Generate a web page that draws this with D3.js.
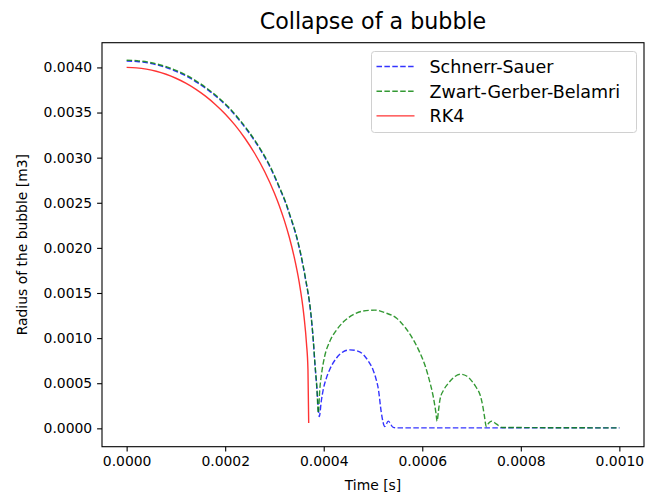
<!DOCTYPE html>
<html lang="en">
<head>
	<meta charset="UTF-8">
	<title>Collapse of a bubble</title>
	<style>
		body { margin: 0; background: #fff; }
		text { font-family: "DejaVu Sans", sans-serif; fill: #000; }
	</style>
</head>
<body>
	<div id="viz-wrapper"></div>

	<script src="https://cdn.jsdelivr.net/npm/d3@7"></script>

	<script type="text/javascript">
    // values
    var timeRK4   = [0, 0.00002, 0.00004, 0.00006, 0.00008, 0.0001, 0.00012, 0.00014, 0.00016, 0.00018,
                     0.0002, 0.00022, 0.00024, 0.00026, 0.00028, 0.0003, 0.00031, 0.00032, 0.00033,
                     0.00034, 0.00035, 0.00036, 0.000365, 0.000368, 0.0003695];
    var radiusRK4 = [0.00400, 0.003995, 0.003981, 0.003958, 0.003924, 0.003880, 0.003826, 0.003760, 0.003682, 0.003590,
                     0.003484, 0.003360, 0.003215, 0.003046, 0.002847, 0.002606, 0.002465, 0.002305, 0.002120,
                     0.001900, 0.001625, 0.001238, 0.000941, 0.000653, 0.00006];

    var timeSS   = [0, 0.000021, 0.000042, 0.000062, 0.000083, 0.000104, 0.000125, 0.000145, 0.000166, 0.000187,
                    0.000208, 0.000228, 0.000249, 0.00027, 0.000291, 0.000311, 0.000322, 0.000332, 0.000343,
                    0.000353, 0.000363, 0.000374, 0.000379, 0.000382, 0.000386, 0.000391,
                    0.000395, 0.000399, 0.000405, 0.000412, 0.000426, 0.00044, 0.000453, 0.000467, 0.00048,
                    0.00049, 0.0005, 0.000506, 0.000511, 0.000517, 0.000524, 0.000531, 0.000541, 0.00055, 0.001];
    var radiusSS = [0.00407, 0.004065, 0.004051, 0.004027, 0.003993, 0.003948, 0.003893, 0.003826, 0.003746, 0.003653,
                    0.003545, 0.003419, 0.003271, 0.003099, 0.002897, 0.002652, 0.002508, 0.002345, 0.002157,
                    0.001933, 0.001653, 0.001260, 0.000957, 0.00072, 0.00045, 0.00013,
                    0.00030, 0.00043, 0.00055, 0.00065, 0.00078, 0.00085, 0.00087, 0.00086, 0.00082,
                    0.00075, 0.00065, 0.00055, 0.00043, 0.00017, 0.00002, 0.00008, 0.00001, 0.000005, 0.000005];

    var timeZGB   = [0, 0.000021, 0.000042, 0.000062, 0.000083, 0.000104, 0.000125, 0.000145, 0.000166, 0.000187,
                     0.000208, 0.000228, 0.000249, 0.00027, 0.000291, 0.000311, 0.000322, 0.000332, 0.000343,
                     0.000353, 0.000363, 0.000374, 0.000379, 0.000382, 0.000386, 0.000389,
                     0.000392, 0.000396, 0.000402, 0.000412, 0.000426, 0.00044, 0.00046, 0.00048, 0.000504,
                     0.000525, 0.000548, 0.000565, 0.000582, 0.000595, 0.000606, 0.000615, 0.000622, 0.000628,
                     0.00063, 0.000633, 0.000636, 0.000644, 0.000653, 0.000665, 0.000677, 0.00069, 0.000701,
                     0.00071, 0.000718, 0.000723, 0.000726, 0.00073, 0.000735, 0.000741, 0.00075, 0.000762, 0.001];
    var radiusZGB = [0.00408, 0.004075, 0.004061, 0.004037, 0.004003, 0.003958, 0.003903, 0.003836, 0.003756, 0.003663,
                     0.003555, 0.003429, 0.003281, 0.003109, 0.002907, 0.002662, 0.002518, 0.002355, 0.002167,
                     0.001943, 0.001663, 0.001270, 0.000967, 0.00073, 0.00046, 0.00017,
                     0.00043, 0.00062, 0.00080, 0.00096, 0.00109, 0.00118, 0.00126, 0.00130, 0.00131,
                     0.00128, 0.00122, 0.00112, 0.00098, 0.00084, 0.00069, 0.00052, 0.00036, 0.00016,
                     0.00008, 0.00020, 0.00032, 0.00043, 0.00050, 0.00057, 0.00060, 0.00058, 0.00052,
                     0.00045, 0.00036, 0.00024, 0.00014, 0.00002, 0.00006, 0.00008, 0.00005, 0.00001, 0.000005];

    var xTicks = [0, 0.0002, 0.0004, 0.0006, 0.0008, 0.001];
    var yTicks = [0, 0.0005, 0.001, 0.0015, 0.002, 0.0025, 0.003, 0.0035, 0.004];

    var seriesNames = ['Schnerr-Sauer', 'Zwart-Gerber-Belamri', 'RK4'];
    var seriesColors = ['#0000ff', '#008000', '#ff0000'];
    var seriesDash = ['5.5,2.4', '5.5,2.4', null];

    var width = 648, height = 496;
    var margin = {left: 102, right: 4, top: 42.7, bottom: 49.3};

    var svg = d3.select('#viz-wrapper')
                .append('svg')
                .attr('width', width)
                .attr('height', height);

    var x = d3.scaleLinear().domain([-0.00005, 0.00105]).range([margin.left, width - margin.right]);
    var y = d3.scaleLinear().domain([-0.0002035, 0.004274]).range([height - margin.bottom, margin.top]);

    var series = [
        {time: timeSS, radius: radiusSS},
        {time: timeZGB, radius: radiusZGB},
        {time: timeRK4, radius: radiusRK4}
    ];

    var line = d3.line()
                 .x(function(d) { return x(d[0]); })
                 .y(function(d) { return y(d[1]); })
                 .curve(d3.curveMonotoneX);

    series.forEach(function(s, i) {
        svg.append('path')
           .datum(d3.zip(s.time, s.radius))
           .attr('d', line)
           .attr('fill', 'none')
           .attr('stroke', seriesColors[i])
           .attr('stroke-opacity', 0.8)
           .attr('stroke-width', 1.4)
           .attr('stroke-dasharray', seriesDash[i]);
    });

    // axes
    var fmt = d3.format('.4f');
    var xAxis = svg.append('g')
        .attr('transform', 'translate(0,' + (height - margin.bottom) + ')')
        .call(d3.axisBottom(x).tickValues(xTicks).tickFormat(fmt).tickSizeInner(4.9).tickSizeOuter(0).tickPadding(4.9));
    var yAxis = svg.append('g')
        .attr('transform', 'translate(' + margin.left + ',0)')
        .call(d3.axisLeft(y).tickValues(yTicks).tickFormat(fmt).tickSizeInner(4.9).tickSizeOuter(0).tickPadding(4.9));

    [xAxis, yAxis].forEach(function(a) {
        a.select('.domain').remove();
        a.selectAll('line').attr('stroke', '#000').attr('stroke-width', 1.1);
        a.selectAll('text').attr('font-size', 13.9).attr('font-family', 'DejaVu Sans').attr('fill', '#000');
    });

    // frame
    svg.append('rect')
       .attr('x', margin.left)
       .attr('y', margin.top)
       .attr('width', width - margin.right - margin.left)
       .attr('height', height - margin.bottom - margin.top)
       .attr('fill', 'none')
       .attr('stroke', '#000')
       .attr('stroke-width', 1.1);

    // labels
    svg.append('text')
       .attr('x', (margin.left + width - margin.right) / 2)
       .attr('y', 29)
       .attr('text-anchor', 'middle')
       .attr('font-size', 22.2)
       .text('Collapse of a bubble');

    svg.append('text')
       .attr('x', (margin.left + width - margin.right) / 2)
       .attr('y', 490)
       .attr('text-anchor', 'middle')
       .attr('font-size', 13.9)
       .text('Time [s]');

    svg.append('text')
       .attr('transform', 'translate(27,' + ((margin.top + height - margin.bottom) / 2) + ') rotate(-90)')
       .attr('text-anchor', 'middle')
       .attr('font-size', 13.9)
       .text('Radius of the bubble [m3]');

    // legend
    var legend = svg.append('g').attr('transform', 'translate(371.5,51.5)');
    legend.append('rect')
          .attr('width', 265)
          .attr('height', 81)
          .attr('rx', 3)
          .attr('fill', '#fff')
          .attr('fill-opacity', 0.8)
          .attr('stroke', '#d0d0d0')
          .attr('stroke-width', 1);

    seriesNames.forEach(function(name, i) {
        var row = legend.append('g').attr('transform', 'translate(0,' + (15 + i * 24.7) + ')');
        row.append('line')
           .attr('x1', 5).attr('x2', 43)
           .attr('stroke', seriesColors[i])
           .attr('stroke-opacity', 0.8)
           .attr('stroke-width', 1.4)
           .attr('stroke-dasharray', seriesDash[i]);
        row.append('text')
           .attr('x', 58)
           .attr('y', 6.3)
           .attr('font-size', 17.5)
           .text(name);
    });
 	</script>
</body>
</html>
